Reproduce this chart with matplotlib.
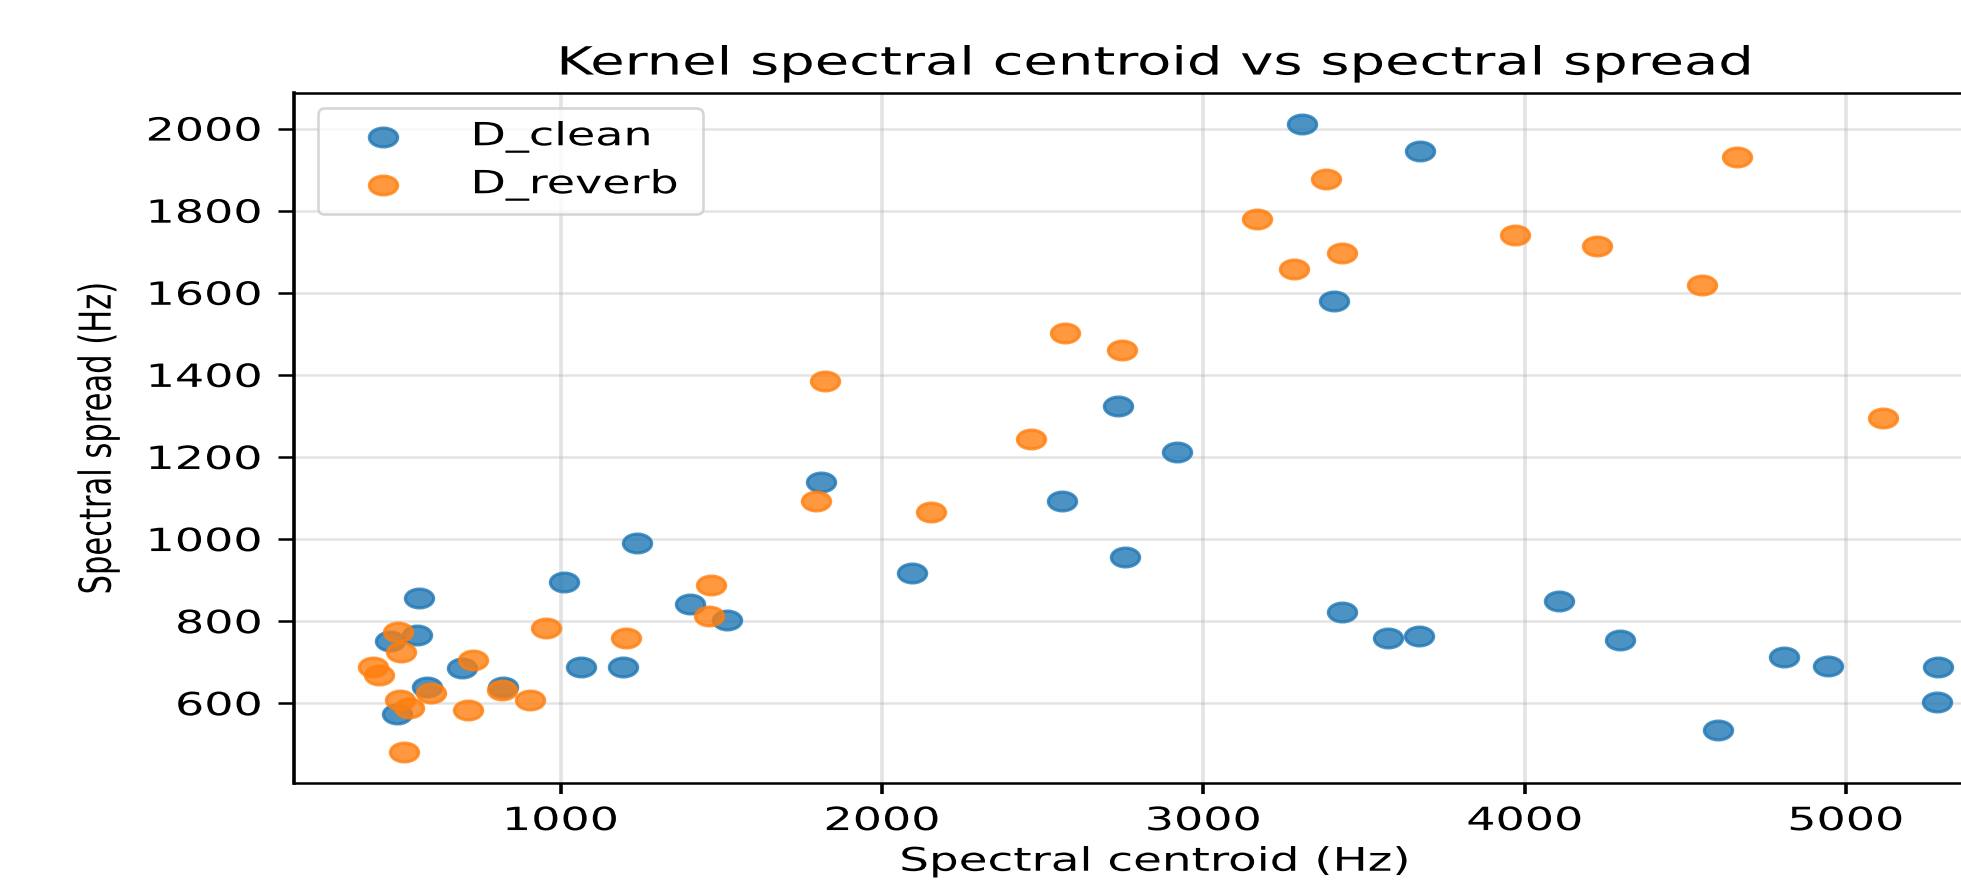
import matplotlib
matplotlib.use("Agg")
import matplotlib.pyplot as plt
from matplotlib.markers import MarkerStyle
from matplotlib.patheffects import AbstractPathEffect
from matplotlib.transforms import Affine2D

# values
clean_centroid = [558, 468, 551, 691, 584, 489, 820, 1010, 1236, 1062, 1194,
                  1402, 1518, 1811, 2094, 2559, 2735, 2756, 2918, 3306, 3674,
                  3406, 3430, 3575, 3672, 4108, 4296, 4601, 4808, 4943, 5285, 5282]
clean_spread = [857, 752, 766, 685, 639, 574, 639, 896, 990, 688, 689,
                841, 803, 1140, 917, 1093, 1325, 957, 1213, 2010, 1945,
                1580, 822, 760, 764, 850, 754, 535, 712, 691, 689, 604]

reverb_centroid = [416, 434, 494, 501, 499, 527, 511, 597, 727, 710, 818,
                   903, 952, 1204, 1462, 1466, 1794, 1822, 2151, 2462, 2569,
                   2745, 3166, 3282, 3383, 3430, 3971, 4225, 4551, 4661, 5115]
reverb_spread = [689, 669, 774, 726, 608, 588, 480, 626, 706, 583, 632,
                 608, 783, 758, 813, 888, 1093, 1384, 1067, 1243, 1503,
                 1461, 1779, 1659, 1878, 1696, 1740, 1714, 1620, 1931, 1296]

x_ticks = [1000, 2000, 3000, 4000, 5000]
y_ticks = [600, 800, 1000, 1200, 1400, 1600, 1800, 2000]
x_range = (169, 5529)
y_range = (405, 2086)

STRETCH = 1.44  # the reference picture is widened sideways


class Widen(AbstractPathEffect):
    """Draw text widened sideways about its left, centre or right edge."""

    def __init__(self, sx, anchor="center"):
        super().__init__()
        self.sx = sx
        self.anchor = anchor

    def draw_path(self, renderer, gc, tpath, affine, rgbFace=None):
        ext = affine.transform_path(tpath).get_extents()
        if self.anchor == "left":
            cx = ext.x0
        elif self.anchor == "right":
            cx = ext.x1
        else:
            cx = 0.5 * (ext.x0 + ext.x1)
        wide = affine + Affine2D().translate(-cx, 0).scale(self.sx, 1).translate(cx, 0)
        renderer.draw_path(gc, tpath, wide, rgbFace)


plt.rcParams["font.family"] = "DejaVu Sans"

fig = plt.figure(figsize=(19.61, 8.92), dpi=100)
ax = fig.add_axes([0.1499, 0.1219, 0.8781, 0.7735])

marker = MarkerStyle("o", transform=Affine2D().scale(1.5, 1.0))
ax.scatter(clean_centroid, clean_spread, s=185, marker=marker, alpha=0.8,
           linewidths=2.25, color="#1f77b4", label="D_clean", zorder=3)
ax.scatter(reverb_centroid, reverb_spread, s=185, marker=marker, alpha=0.8,
           linewidths=2.25, color="#ff7f0e", label="D_reverb", zorder=3)

ax.set_xlim(*x_range)
ax.set_ylim(*y_range)
ax.set_xticks(x_ticks)
ax.set_yticks(y_ticks)
ax.grid(True, axis="x", color="#b0b0b0", alpha=0.35, linewidth=2.6)
ax.grid(True, axis="y", color="#b0b0b0", alpha=0.35, linewidth=1.8)
ax.set_axisbelow(True)

for side in ["top", "bottom"]:
    ax.spines[side].set_linewidth(1.8)
ax.spines["left"].set_linewidth(2.6)
ax.spines["right"].set_linewidth(2.6)

ax.tick_params(axis="x", length=7.9, width=2.6, pad=8.5, labelsize=23)
ax.tick_params(axis="y", length=11.5, width=1.8, pad=11.5, labelsize=23)
for tick in ax.xaxis.get_major_ticks():
    tick.label1.set_path_effects([Widen(STRETCH, "center")])
for tick in ax.yaxis.get_major_ticks():
    tick.label1.set_path_effects([Widen(STRETCH, "right")])

title = ax.set_title("Kernel spectral centroid vs spectral spread", fontsize=28, pad=13.5)
title.set_path_effects([Widen(STRETCH, "center")])
xlab = ax.set_xlabel("Spectral centroid (Hz)", fontsize=23.4)
xlab.set_path_effects([Widen(STRETCH, "center")])
ylab = ax.set_ylabel("Spectral spread (Hz)", fontsize=22)
ylab.set_path_effects([Widen(STRETCH, "center")])
ax.xaxis.set_label_coords(0.5, -0.092)
ax.yaxis.set_label_coords(-0.1051, 0.5)

leg = ax.legend(loc="upper left", bbox_to_anchor=(0.0137, 0.5, 0.2236, 0.478),
                mode="expand", borderaxespad=0, fontsize=23, handlelength=3.3,
                handletextpad=1.13, framealpha=0.8)
leg.get_frame().set_linewidth(1.9)
for text in leg.get_texts():
    text.set_path_effects([Widen(STRETCH, "left")])

fig.savefig("out.png", dpi=100)
